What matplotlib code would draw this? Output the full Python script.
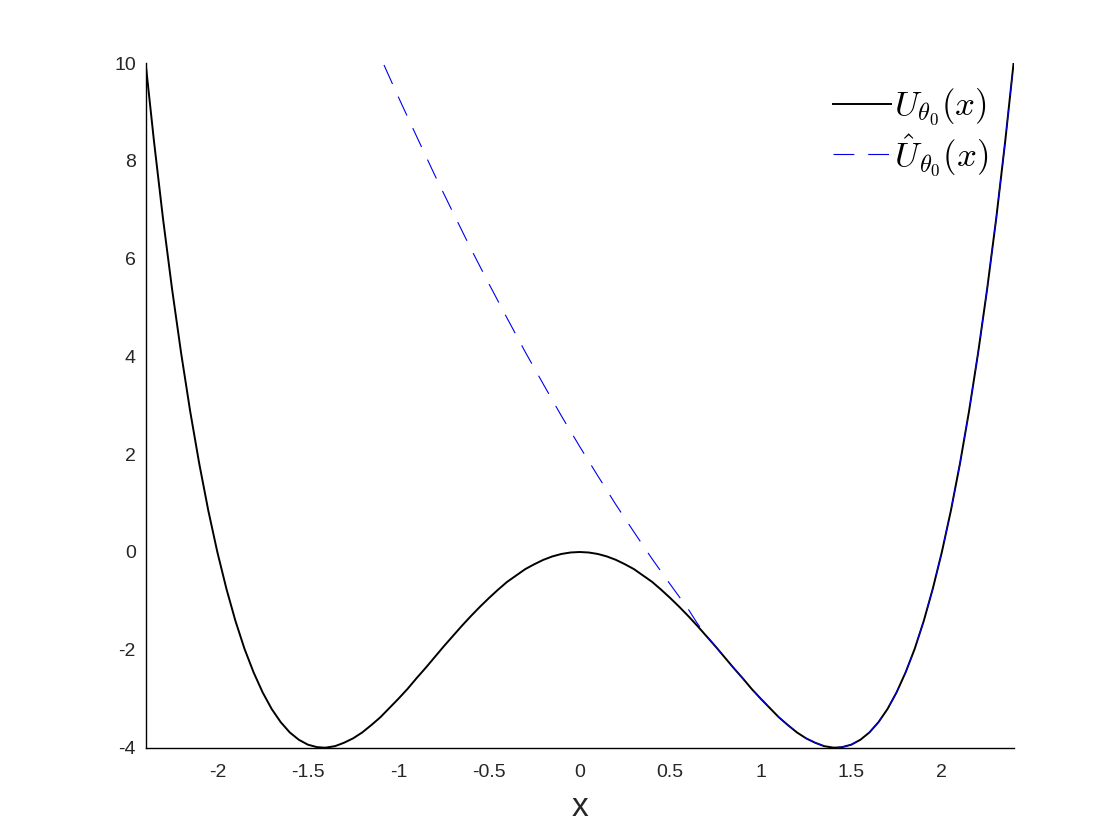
import matplotlib
matplotlib.use('Agg')
import matplotlib.pyplot as plt

plt.rcParams['mathtext.fontset'] = 'cm'
plt.rcParams['font.family'] = ['Liberation Sans', 'DejaVu Sans']
plt.rcParams['lines.scale_dashes'] = False

# U(x)
x_u = [-2.4, -2.35, -2.3, -2.25, -2.2, -2.15, -2.1, -2.05, -2.0, -1.95, -1.9, -1.85,
       -1.8, -1.75, -1.7, -1.65, -1.6, -1.55, -1.5, -1.45, -1.414, -1.4, -1.35, -1.3,
       -1.25, -1.2, -1.15, -1.1, -1.05, -1.0, -0.95, -0.9, -0.85, -0.8, -0.75, -0.7,
       -0.65, -0.6, -0.55, -0.5, -0.45, -0.4, -0.35, -0.3, -0.25, -0.2, -0.15, -0.1,
       -0.05, 0.0, 0.05, 0.1, 0.15, 0.2, 0.25, 0.3, 0.35, 0.4, 0.45, 0.5,
       0.55, 0.6, 0.65, 0.7, 0.75, 0.8, 0.85, 0.9, 0.95, 1.0, 1.05, 1.1,
       1.15, 1.2, 1.25, 1.3, 1.35, 1.4, 1.414, 1.45, 1.5, 1.55, 1.6, 1.65,
       1.7, 1.75, 1.8, 1.85, 1.9, 1.95, 2.0, 2.05, 2.1, 2.15, 2.2, 2.25,
       2.3, 2.35, 2.4]
y_u = [10.14, 8.41, 6.82, 5.38, 4.07, 2.88, 1.81, 0.85, 0.00, -0.75, -1.41, -1.98,
       -2.46, -2.87, -3.21, -3.48, -3.69, -3.84, -3.94, -3.99, -4.00, -4.00, -3.97, -3.90,
       -3.81, -3.69, -3.54, -3.38, -3.19, -3.00, -2.80, -2.58, -2.37, -2.15, -1.93, -1.72,
       -1.51, -1.31, -1.12, -0.94, -0.77, -0.61, -0.48, -0.35, -0.25, -0.16, -0.09, -0.04,
       -0.01, 0.00, -0.01, -0.04, -0.09, -0.16, -0.25, -0.35, -0.48, -0.61, -0.77, -0.94,
       -1.12, -1.31, -1.51, -1.72, -1.93, -2.15, -2.37, -2.58, -2.80, -3.00, -3.19, -3.38,
       -3.54, -3.69, -3.81, -3.90, -3.97, -4.00, -4.00, -3.99, -3.94, -3.84, -3.69, -3.48,
       -3.21, -2.87, -2.46, -1.98, -1.41, -0.75, 0.00, 0.85, 1.81, 2.88, 4.07, 5.38,
       6.82, 8.41, 10.14]

# U-hat(x)
x_h = [-1.08, -1.0, -0.9, -0.8, -0.7, -0.6, -0.5, -0.4, -0.3, -0.2, -0.1, 0.0, 0.1, 0.2,
       0.3, 0.4, 0.5, 0.6, 0.65, 0.7, 0.75, 0.8, 0.85, 0.9, 0.95, 1.0, 1.05, 1.1,
       1.15, 1.2, 1.25, 1.3, 1.35, 1.4, 1.414, 1.45, 1.5, 1.55, 1.6, 1.65,
       1.7, 1.75, 1.8, 1.85, 1.9, 1.95, 2.0, 2.05, 2.1, 2.15, 2.2, 2.25,
       2.3, 2.35, 2.4]
y_h = [9.96, 9.30, 8.50, 7.71, 6.95, 6.20, 5.48, 4.78, 4.09, 3.43, 2.78, 2.16, 1.56, 0.97,
       0.41, -0.14, -0.66, -1.17, -1.46, -1.71, -1.93, -2.15, -2.37, -2.58, -2.80, -3.00, -3.19, -3.38,
       -3.54, -3.69, -3.81, -3.90, -3.97, -4.00, -4.00, -3.99, -3.94, -3.84, -3.69, -3.48,
       -3.21, -2.87, -2.46, -1.98, -1.41, -0.75, 0.00, 0.85, 1.81, 2.88, 4.07, 5.38,
       6.82, 8.41, 10.14]

fig = plt.figure(figsize=(11.2, 8.4), dpi=100)
ax = fig.add_axes([0.13, 0.11, 0.775, 0.815])

ax.plot(x_u, y_u, color='black', lw=1.4, label=r'$U_{\theta_0}(x)$')
ax.plot(x_h, y_h, color='#0000ee', lw=0.8, dashes=(15, 10), label=r'$\hat{U}_{\theta_0}(x)$')

ax.set_xlim(-2.396, 2.396)
ax.set_ylim(-4, 10)
ax.set_xticks([-2, -1.5, -1, -0.5, 0, 0.5, 1, 1.5, 2])
ax.set_xticklabels(['-2', '-1.5', '-1', '-0.5', '0', '0.5', '1', '1.5', '2'])
ax.set_yticks([-4, -2, 0, 2, 4, 6, 8, 10])
ax.set_yticklabels(['-4', '-2', '0', '2', '4', '6', '8', '10'])
ax.tick_params(length=0, labelsize=14, labelcolor='#262626')
ax.tick_params(axis='x', pad=12)
ax.tick_params(axis='y', pad=7)
for s in ['top', 'right']:
    ax.spines[s].set_visible(False)
for s in ['left', 'bottom']:
    ax.spines[s].set_linewidth(1.0)
ax.set_xlabel('x', fontsize=24, color='#262626', labelpad=8)

leg = ax.legend(loc='upper right', frameon=False, fontsize=25, handlelength=1.65,
                handletextpad=0.1, labelspacing=0.1, borderaxespad=0.0,
                bbox_to_anchor=(0.987, 0.985))

fig.savefig('out.png', dpi=100, facecolor='white')
